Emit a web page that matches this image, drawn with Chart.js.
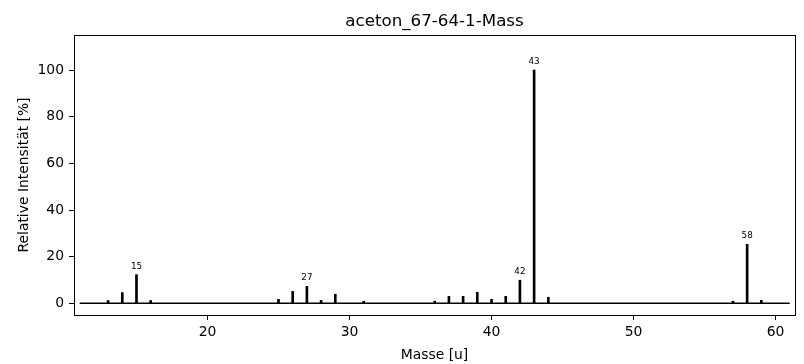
<!DOCTYPE html>
<html>
<head>
<meta charset="utf-8">
<script src="https://cdn.jsdelivr.net/npm/chart.js@4.4.1/dist/chart.umd.min.js"></script>
<style>
  html, body { margin: 0; padding: 0; background: #fff; }
  #wrap { width: 804px; height: 364px; }
</style>
</head>
<body>
<div id="wrap"><canvas id="massChart"></canvas></div>
<script>
// Daten
const chartTitle = 'aceton_67-64-1-Mass';
const masses = [13, 14, 15, 16, 25, 26, 27, 28, 29, 31, 36, 37, 38, 39, 40, 41, 42, 43, 44, 57, 58, 59];
const intensities = [1.2, 4.6, 12.3, 1.2, 1.7, 5.1, 7.3, 1.3, 3.9, 0.9, 0.9, 3.0, 3.0, 4.7, 1.7, 3.0, 9.9, 100, 2.6, 0.9, 25.3, 1.3];
const labeledMasses = [15, 27, 42, 43, 58];
const baselineRange = [11, 61];
const xTicks = [20, 30, 40, 50, 60];
const yTicks = [0, 20, 40, 60, 80, 100];

document.addEventListener("DOMContentLoaded", function() {
    Chart.defaults.font.family = "'DejaVu Sans', sans-serif";
    Chart.defaults.color = '#000';

    const stems = masses.map((m, i) => ({ x: m, y: intensities[i] }));
    const baseline = baselineRange.map(x => ({ x: x, y: 0 }));

    // Rahmen, Titel und Peak-Beschriftungen
    const extras = {
        id: 'extras',
        afterDraw(chart) {
            const c = chart.ctx, a = chart.chartArea;
            const xs = chart.scales.x, ys = chart.scales.y;
            c.save();
            c.strokeStyle = '#000';
            c.lineWidth = 1;
            c.strokeRect(Math.round(a.left) + 0.5, Math.round(a.top) + 0.5,
                         Math.round(a.right - a.left), Math.round(a.bottom - a.top));
            c.fillStyle = '#000';
            c.textAlign = 'center';
            c.textBaseline = 'middle';
            c.font = "16.7px 'DejaVu Sans'";
            c.fillText(chartTitle, (a.left + a.right) / 2, 22);
            c.font = "8.8px 'DejaVu Sans'";
            c.textBaseline = 'alphabetic';
            labeledMasses.forEach(m => {
                const v = intensities[masses.indexOf(m)];
                c.fillText(String(m), xs.getPixelForValue(m), ys.getPixelForValue(v) - 6);
            });
            c.restore();
        }
    };

    new Chart(document.getElementById('massChart'), {
        type: 'bar',
        data: {
            datasets: [
                { type: 'bar', data: stems, backgroundColor: '#000', barThickness: 2, order: 2 },
                { type: 'line', data: baseline, borderColor: '#000', borderWidth: 1.5, pointRadius: 0, order: 1 }
            ]
        },
        options: {
            responsive: true,
            maintainAspectRatio: false,
            animation: false,
            layout: { padding: { top: 35, right: 9, left: 0, bottom: 0 } },
            plugins: { legend: { display: false }, tooltip: { enabled: false }, title: { display: false } },
            scales: {
                x: {
                    type: 'linear', min: 10.6, max: 61.37, offset: false,
                    afterBuildTicks: s => { s.ticks = xTicks.map(v => ({ value: v })); },
                    afterFit: s => { s.height = 49; },
                    grid: { offset: false, drawOnChartArea: false, drawTicks: true, tickLength: 5, color: '#000' },
                    border: { display: false },
                    ticks: { font: { size: 13.9 }, padding: 4, maxRotation: 0 },
                    title: { display: true, text: 'Masse [u]', font: { size: 13.9 }, padding: { top: 2, bottom: 0 } }
                },
                y: {
                    min: -5, max: 115,
                    afterBuildTicks: s => { s.ticks = yTicks.map(v => ({ value: v })); },
                    afterFit: s => { s.width = 74; },
                    grid: { drawOnChartArea: false, drawTicks: true, tickLength: 5, color: '#000' },
                    border: { display: false },
                    ticks: { font: { size: 13.9 }, padding: 5 },
                    title: { display: true, text: 'Relative Intensität [%]', font: { size: 13.9 }, padding: { top: 16, bottom: 0 } }
                }
            }
        },
        plugins: [extras]
    });
});
</script>
</body>
</html>
